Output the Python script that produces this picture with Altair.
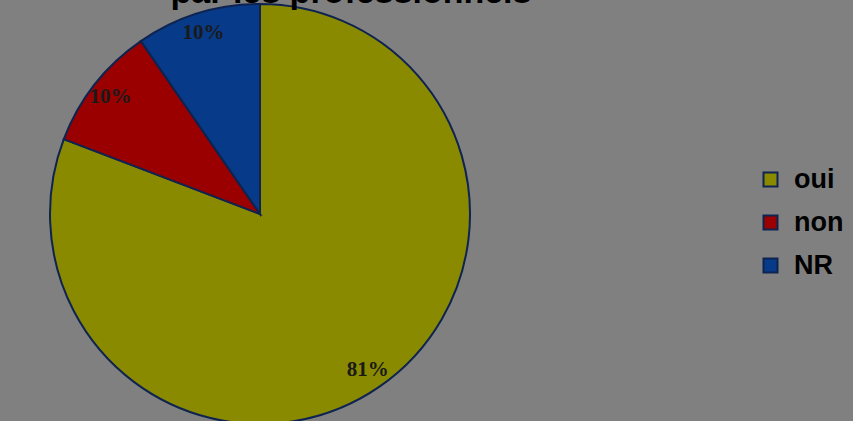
import altair as alt
import pandas as pd

# Data
categories = ["oui", "non", "NR"]
shares = [80.8, 9.6, 9.6]
labels = ["81%", "10%", "10%"]
colors = ["#8A8A00", "#9A0000", "#073A88"]
title_lines = ["par les professionnels"]

df = pd.DataFrame({"cat": categories, "share": shares, "label": labels})
title_df = pd.DataFrame({"t": title_lines})

color_scale = alt.Scale(domain=categories, range=colors)
theta = alt.Theta("share:Q", stack=True)
order = alt.Order("cat:N", sort="descending")

pie = alt.Chart(df).mark_arc(radius=210, stroke="#0F2350", strokeWidth=2).encode(
    theta=theta,
    order=order,
    color=alt.Color(
        "cat:N",
        scale=color_scale,
        legend=alt.Legend(
            title=None,
            orient="none",
            legendX=757,
            legendY=166,
            symbolType="square",
            symbolSize=196,
            symbolStrokeColor="#0F2350",
            symbolStrokeWidth=2,
            labelFont="Liberation Sans",
            labelFontSize=27,
            labelFontWeight="bold",
            labelColor="black",
            labelOffset=10,
            rowPadding=15,
            padding=0,
        ),
    ),
    x=alt.value(260),
    y=alt.value(214),
)

text = alt.Chart(df).mark_text(
    radius=190, font="Liberation Serif", fontSize=21, fontWeight="bold", color="#1a1a1a"
).encode(
    theta=theta,
    order=order,
    detail="cat:N",
    text="label:N",
    x=alt.value(260),
    y=alt.value(214),
)

title = alt.Chart(title_df).mark_text(
    font="Liberation Sans", fontSize=34, fontWeight="bold", baseline="alphabetic",
    align="center", color="black"
).encode(text="t:N", x=alt.value(351), y=alt.value(3))

chart = alt.layer(pie, text, title).properties(
    width=853,
    height=421,
    background="#808080",
    padding=0,
    autosize=alt.AutoSizeParams(type="none"),
).configure_view(stroke=None)

chart.save("out.html", embed_options={"renderer": "svg", "actions": False})
